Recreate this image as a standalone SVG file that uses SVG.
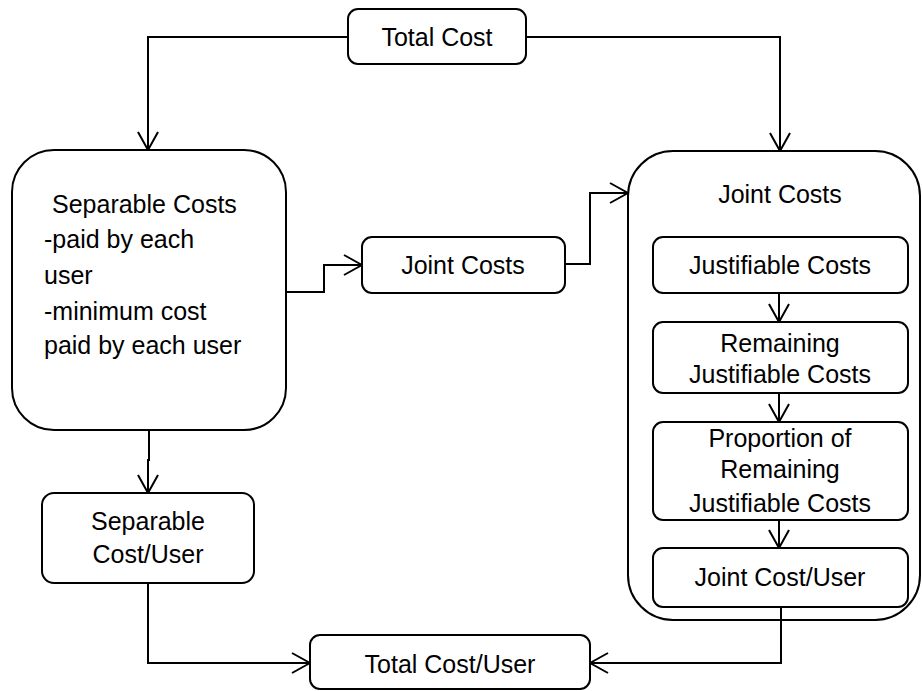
<svg xmlns="http://www.w3.org/2000/svg" width="922" height="691" viewBox="0 0 922 691">
<defs>
<style>
.box{fill:#fff;stroke:#000;stroke-width:2}
.t{font-family:"Liberation Sans",Arial,sans-serif;font-size:25px;fill:#000}
.m{text-anchor:middle}
.c{fill:none;stroke:#000;stroke-width:2}
</style>
<marker id="ah" viewBox="0 0 20 22" refX="19" refY="11" markerWidth="20" markerHeight="22" markerUnits="userSpaceOnUse" orient="auto">
<path d="M1,1 L19,11 L1,21" fill="none" stroke="#000" stroke-width="2"/>
</marker>
</defs>
<rect width="922" height="691" fill="#fff"/>
<g id="total-cost">
<rect class="box" x="348" y="9" width="178" height="55" rx="10"/>
<text class="t m" x="437" y="46">Total Cost</text>
</g>
<g id="separable-costs">
<rect class="box" x="12" y="150" width="274" height="280" rx="42"/>
<text class="t" x="52" y="213">Separable Costs</text>
<text class="t" x="44" y="248">-paid by each</text>
<text class="t" x="44" y="284">user</text>
<text class="t" x="44" y="320">-minimum cost</text>
<text class="t" x="44" y="354">paid by each user</text>
</g>
<g id="joint-costs-small">
<rect class="box" x="362" y="237" width="203" height="56" rx="10"/>
<text class="t m" x="463" y="274">Joint Costs</text>
</g>
<g id="joint-costs-group">
<rect class="box" x="628" y="151" width="292" height="469" rx="45"/>
<text class="t m" x="780" y="203">Joint Costs</text>
</g>
<g id="justifiable-costs">
<rect class="box" x="653" y="237" width="255" height="56" rx="10"/>
<text class="t m" x="780" y="274">Justifiable Costs</text>
</g>
<g id="remaining-justifiable-costs">
<rect class="box" x="653" y="322" width="255" height="71" rx="10"/>
<text class="t m" x="780" y="352">Remaining</text>
<text class="t m" x="780" y="383">Justifiable Costs</text>
</g>
<g id="proportion">
<rect class="box" x="653" y="422" width="255" height="98" rx="10"/>
<text class="t m" x="780" y="447">Proportion of</text>
<text class="t m" x="780" y="478">Remaining</text>
<text class="t m" x="780" y="512">Justifiable Costs</text>
</g>
<g id="joint-cost-user">
<rect class="box" x="653" y="548" width="255" height="59" rx="10"/>
<text class="t m" x="780" y="586">Joint Cost/User</text>
</g>
<g id="separable-cost-user">
<rect class="box" x="42" y="493" width="212" height="90" rx="12"/>
<text class="t m" x="148" y="530">Separable</text>
<text class="t m" x="148" y="563">Cost/User</text>
</g>
<g id="total-cost-user">
<rect class="box" x="310" y="635" width="280" height="54" rx="10"/>
<text class="t m" x="450" y="673">Total Cost/User</text>
</g>
<g id="connectors">
<path class="c" d="M348,37 H148 V150" marker-end="url(#ah)"/>
<path class="c" d="M526,37 H780 V151" marker-end="url(#ah)"/>
<path class="c" d="M286,292 H324 V265 H362" marker-end="url(#ah)"/>
<path class="c" d="M565,264 H590 V193 H628" marker-end="url(#ah)"/>
<path class="c" d="M149,430 V460 H148 V493" marker-end="url(#ah)"/>
<path class="c" d="M148,583 V663 H310" marker-end="url(#ah)"/>
<path class="c" d="M781,607 V663 H590" marker-end="url(#ah)"/>
<path class="c" d="M779,293 V322" marker-end="url(#ah)"/>
<path class="c" d="M779,393 V422" marker-end="url(#ah)"/>
<path class="c" d="M779,520 V548" marker-end="url(#ah)"/>
</g>
</svg>
